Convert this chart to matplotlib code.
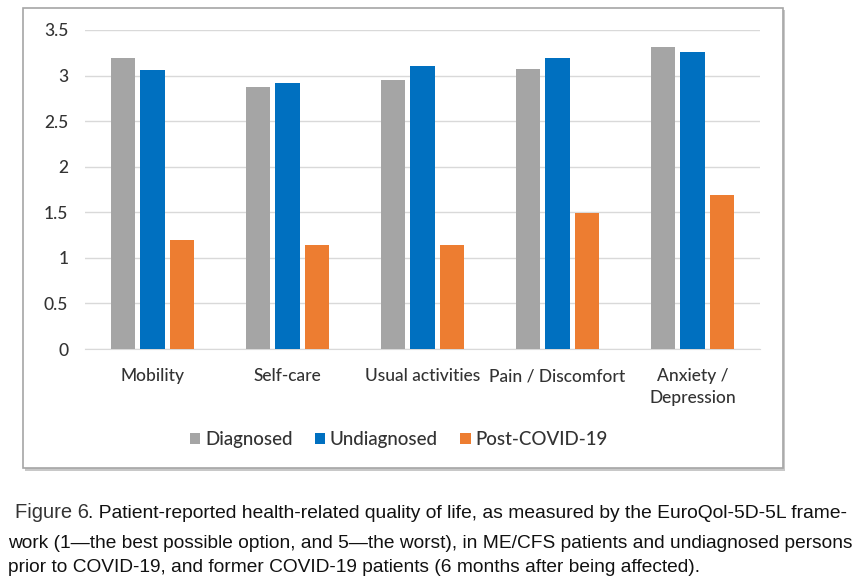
import numpy as np
import matplotlib
matplotlib.use("Agg")
import matplotlib.pyplot as plt
from matplotlib.patches import Rectangle

# EQ-5D-5L mean scores
categories = ["Mobility", "Self-care", "Usual activities", "Pain / Discomfort", "Anxiety /\nDepression"]
diagnosed = [3.19, 2.88, 2.95, 3.07, 3.31]
undiagnosed = [3.06, 2.92, 3.10, 3.19, 3.26]
post_covid = [1.20, 1.14, 1.14, 1.49, 1.69]
series_names = ["Diagnosed", "Undiagnosed", "Post-COVID-19"]
colors = ["#A5A5A5", "#0070C0", "#ED7D31"]
yticks = [0, 0.5, 1, 1.5, 2, 2.5, 3, 3.5]

W, H = 861, 580
fig = plt.figure(figsize=(W / 100, H / 100), dpi=100)

# outer chart frame with a light shadow
fig.patches.append(Rectangle((25 / W, 1 - 471 / H), 760 / W, 461 / H, transform=fig.transFigure,
                             facecolor="#c8c8c8", edgecolor="none", zorder=0))
fig.patches.append(Rectangle((23 / W, 1 - 468 / H), 760 / W, 460 / H, transform=fig.transFigure,
                             facecolor="white", edgecolor="#a6a6a6", linewidth=1.2, zorder=1))

ax = fig.add_axes([85 / W, 1 - 349 / H, 675 / W, 319 / H])
ax.set_zorder(2)
ax.patch.set_alpha(0)

x = np.arange(len(categories))
step = 0.222
width = 0.178
for i, (vals, name, c) in enumerate(zip([diagnosed, undiagnosed, post_covid], series_names, colors)):
    ax.bar(x + (i - 1) * step, vals, width, color=c, label=name, zorder=3)

ax.set_xlim(-0.5, len(categories) - 0.5)
ax.set_ylim(0, 3.5)
ax.set_yticks(yticks)
ax.set_yticklabels([f"{t:g}" for t in yticks])
ax.yaxis.grid(True, color="#d9d9d9", linewidth=1.0, zorder=0)
ax.set_axisbelow(True)
for s in ["top", "right", "left"]:
    ax.spines[s].set_visible(False)
ax.spines["bottom"].set_color("#d9d9d9")
ax.tick_params(axis="both", length=0, labelsize=12.5, colors="#333333")
ax.tick_params(axis="y", pad=12)
ax.tick_params(axis="x", pad=14)
ax.set_xticks(x)
ax.set_xticklabels(categories, fontfamily="Lato", linespacing=1.4)
for lbl in ax.get_yticklabels():
    lbl.set_fontfamily("Lato")
    lbl.set_fontweight("medium")
for lbl in ax.get_xticklabels():
    lbl.set_fontweight("medium")

leg = ax.legend(loc="center", bbox_to_anchor=(0.465, -0.285), ncol=3, frameon=False,
                prop={"family": "Lato", "size": 13.5, "weight": "medium"}, handlelength=0.55,
                handleheight=0.55, handletextpad=0.25, columnspacing=1.2)
for t in leg.get_texts():
    t.set_color("#333333")

# caption
cap_font = {"family": "Liberation Sans", "size": 13.8, "color": "#111111"}
fig.text(15 / W, 1 - 513 / H, "Figure 6", fontfamily="Liberation Sans", fontsize=14.5,
         color="#333333", va="center")
fig.text(88 / W, 1 - 513 / H,
         ". Patient-reported health-related quality of life, as measured by the EuroQol-5D-5L frame-",
         va="center", family="Liberation Sans", size=13.9, color="#111111")
fig.text(8 / W, 1 - 543 / H,
         "work (1\u2014the best possible option, and 5\u2014the worst), in ME/CFS patients and undiagnosed persons",
         va="center", **cap_font)
fig.text(8 / W, 1 - 567 / H,
         "prior to COVID-19, and former COVID-19 patients (6 months after being affected).",
         va="center", **cap_font)

fig.savefig("out.png", dpi=100)
